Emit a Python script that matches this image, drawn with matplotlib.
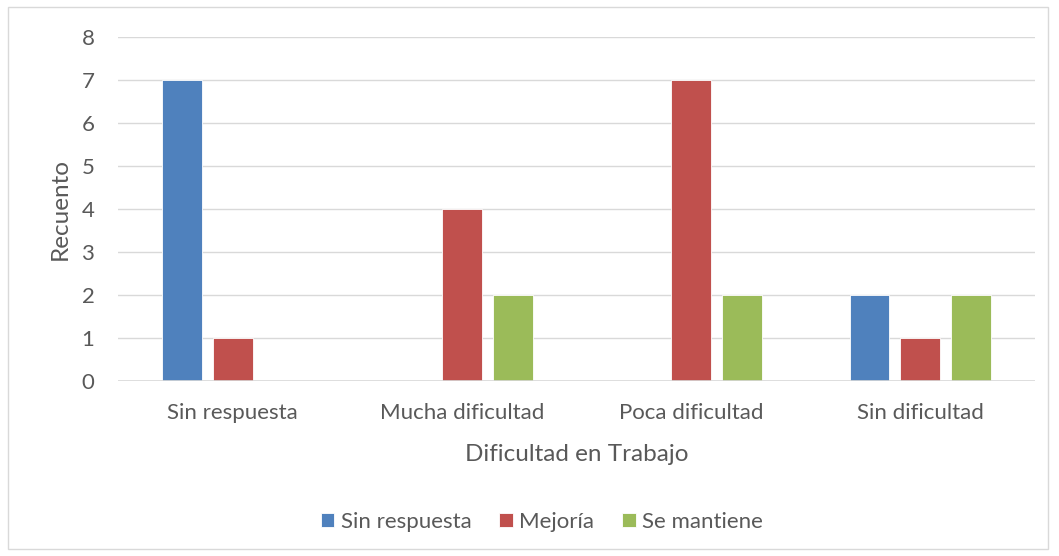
import matplotlib
matplotlib.use("Agg")
import matplotlib.pyplot as plt
import numpy as np
from matplotlib.patches import Rectangle

categories = ["Sin respuesta", "Mucha dificultad", "Poca dificultad", "Sin dificultad"]
series_names = ["Sin respuesta", "Mejoría", "Se mantiene"]
sin_respuesta = [7, 0, 0, 2]
mejoria = [1, 4, 7, 1]
se_mantiene = [0, 2, 2, 2]
colors = ["#4F81BD", "#C0504D", "#9BBB59"]

plt.rcParams['font.family'] = ['Lato', 'DejaVu Sans']
txt = "#595959"

fig = plt.figure(figsize=(10.59, 5.56), dpi=100)
fig.patches.append(Rectangle((8/1059, 1-549/556), 1040/1059, 542/556, transform=fig.transFigure,
                             fill=False, edgecolor="#D9D9D9", linewidth=1))
ax = fig.add_axes([118/1059, 1-381/556, (1035-118)/1059, (381-37)/556])

x = np.arange(len(categories))
w = 0.174
off = 0.222
for i, (vals, name) in enumerate(zip([sin_respuesta, mejoria, se_mantiene], series_names)):
    ax.bar(x + (i-1)*off, vals, width=w, color=colors[i], label=name,
           edgecolor="white", linewidth=0.6, zorder=3)

ax.set_xlim(-0.5, 3.5)
ax.set_ylim(0, 8)
ax.set_yticks(range(0, 9))
ax.grid(axis='y', color="#D9D9D9", linewidth=1, zorder=0)
for s in ax.spines.values():
    s.set_visible(False)
ax.axhline(0, color="#D9D9D9", linewidth=1.2, zorder=4)
ax.tick_params(length=0, labelsize=16, colors=txt)
ax.tick_params(axis='x', pad=16)
ax.tick_params(axis='y', pad=17)
ax.set_xticks(x)
ax.set_xticklabels(categories)
ax.set_xlabel("Dificultad en Trabajo", fontsize=17.5, color=txt, labelpad=15)
ax.set_ylabel("Recuento", fontsize=17.5, color=txt, labelpad=8)

handles, labels = ax.get_legend_handles_labels()
fig.legend(handles, labels, loc='center', bbox_to_anchor=(542/1059, 1-522/556), ncol=3,
           frameon=False, fontsize=16, labelcolor=txt, handlelength=0.6, handleheight=0.6,
           handletextpad=0.3, columnspacing=1.25)

fig.savefig("out.png", dpi=100)
